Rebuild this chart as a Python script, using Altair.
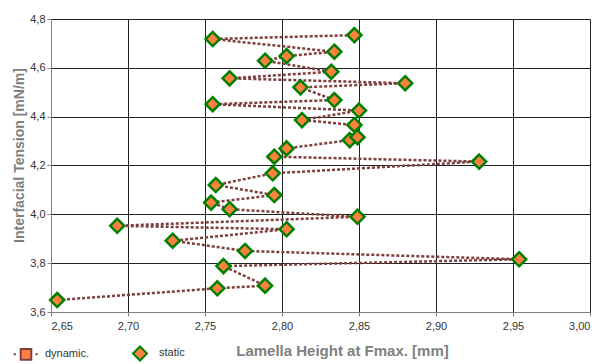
import altair as alt
import pandas as pd

# Lamella height at Fmax [mm] (points in order of increasing interfacial tension)
lamella_height = [2.654, 2.758, 2.789, 2.762, 2.954, 2.776, 2.729, 2.803, 2.693, 2.849,
                  2.766, 2.754, 2.795, 2.757, 2.794, 2.928, 2.795, 2.803, 2.844, 2.849,
                  2.847, 2.813, 2.850, 2.755, 2.834, 2.812, 2.880, 2.766, 2.832, 2.789,
                  2.803, 2.834, 2.755, 2.847]
# Interfacial tension [mN/m]
tension = [3.649, 3.697, 3.708, 3.788, 3.816, 3.850, 3.892, 3.939, 3.953, 3.990,
           4.021, 4.048, 4.079, 4.120, 4.168, 4.216, 4.236, 4.270, 4.304, 4.316,
           4.366, 4.386, 4.425, 4.451, 4.468, 4.520, 4.537, 4.557, 4.584, 4.629,
           4.648, 4.666, 4.718, 4.734]
series_names = ["dynamic.", "static"]
x_ticks = [2.65, 2.70, 2.75, 2.80, 2.85, 2.90, 2.95, 3.00]
y_ticks = [3.6, 3.8, 4.0, 4.2, 4.4, 4.6, 4.8]

df = pd.DataFrame({
    "x": lamella_height,
    "y": tension,
    "idx": list(range(len(tension))),
    "series": ["static"] * len(tension),
})

FONT = "Liberation Sans"
ORANGE = "#FF8040"
BROWN = "#7F3F3F"
GREEN = "#008000"

SQUARE_PATH = "M-0.48,-0.48H0.48V0.48H-0.48Z M-1.12,0H-0.92 M0.86,0H1.06"
DIAMOND_PATH = "M0,-0.64L0.64,0L0,0.64L-0.64,0Z"

x_enc = alt.X(
    "x:Q",
    scale=alt.Scale(domain=[2.65, 3.0], nice=False, zero=False),
    axis=alt.Axis(
        values=x_ticks,
        labelExpr="replace(format(datum.value, '.2f'), '.', ',')",
        title="Lamella Height at Fmax. [mm]",
        titleX=291, titleY=38, titleBaseline="middle",
    ),
)
y_enc = alt.Y(
    "y:Q",
    scale=alt.Scale(domain=[3.6, 4.8], nice=False, zero=False),
    axis=alt.Axis(
        values=y_ticks,
        labelExpr="replace(format(datum.value, '.1f'), '.', ',')",
        title="Interfacial Tension [mN/m]",
        titleX=-32, titleY=136, titleBaseline="middle",
    ),
)

line = alt.Chart(df).mark_line(
    color=BROWN, strokeDash=[3, 2], strokeWidth=2.5
).encode(x=x_enc, y=y_enc, order="idx:Q")

legend = alt.Legend(
    title=None, orient="none", direction="horizontal",
    legendX=-37, legendY=322, columnPadding=38, labelOffset=7,
    symbolSize=484, symbolStrokeWidth=2, padding=0,
    labelFont=FONT, labelFontSize=11, labelColor="#333333",
)

points = alt.Chart(df).mark_point(
    filled=True, size=484, strokeWidth=2.5, opacity=1, fill=ORANGE
).encode(
    x=x_enc, y=y_enc,
    shape=alt.Shape("series:N", scale=alt.Scale(domain=series_names, range=[SQUARE_PATH, DIAMOND_PATH]), legend=legend),
    stroke=alt.Stroke("series:N", scale=alt.Scale(domain=series_names, range=[BROWN, GREEN]), legend=legend),
)

chart = alt.layer(line, points).properties(
    width=539, height=293,
    autosize=alt.AutoSizeParams(type="none"),
    padding={"left": 43, "top": 11, "right": 4, "bottom": 56},
).configure_view(stroke=None).configure_axis(
    gridColor="#222222", gridWidth=1, gridOpacity=1,
    domainColor="#808080", tickColor="#808080", tickSize=4,
    labelFont=FONT, labelFontSize=11, labelColor="#333333",
    titleFont=FONT, titleFontWeight="bold", titleColor="#808080",
).configure_axisX(titleFontSize=15, labelPadding=4).configure_axisY(titleFontSize=14, labelPadding=2)

chart.save("out.html", embed_options={"renderer": "svg", "actions": False})
